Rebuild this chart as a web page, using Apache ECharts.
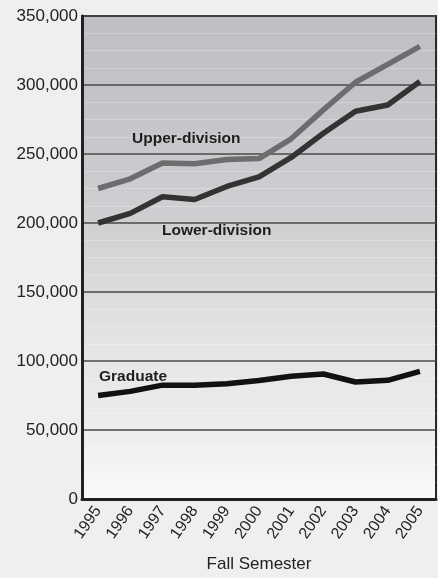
<!DOCTYPE html>
<html>
<head>
<meta charset="utf-8">
<script src="https://cdn.jsdelivr.net/npm/echarts@6/dist/echarts.min.js"></script>
<style>
html,body{margin:0;padding:0;background:#efefef;}
#c{width:438px;height:578px;}
</style>
</head>
<body>
<div id="c"></div>
<script>
var years = ['1995','1996','1997','1998','1999','2000','2001','2002','2003','2004','2005'];
var upperDivision = [225000,232000,243500,243000,246000,246700,261000,282000,302000,315000,328000];
var lowerDivision = [200000,207000,219000,217000,226500,233500,247500,265000,281000,285500,302500];
var graduate = [75000,78000,82500,82500,83500,85800,89000,90600,84800,86000,92500];
var yTicks = [0,50000,100000,150000,200000,250000,300000,350000];
var FONT = '"Liberation Sans",Arial,sans-serif';

var chart = echarts.init(document.getElementById('c'));
chart.setOption({
  backgroundColor: '#efefef',
  animation: false,
  grid: {
    left: 82, right: 2, top: 16, bottom: 74,
    show: true,
    borderColor: '#2a2a2a', borderWidth: 2,
    backgroundColor: {
      type: 'linear', x: 0, y: 0, x2: 0, y2: 1,
      colorStops: [
        {offset: 0, color: '#bfc0c4'},
        {offset: 0.2, color: '#c4c5c8'},
        {offset: 0.43, color: '#cfd0d2'},
        {offset: 0.57, color: '#dcdcde'},
        {offset: 0.71, color: '#e5e6e8'},
        {offset: 0.86, color: '#eeeeef'},
        {offset: 1, color: '#fafafa'}
      ]
    }
  },
  xAxis: {
    type: 'category',
    data: years,
    boundaryGap: true,
    name: 'Fall Semester',
    nameLocation: 'middle',
    nameGap: 57,
    nameTextStyle: {fontFamily: FONT, fontSize: 17, color: '#222'},
    axisLine: {lineStyle: {color: '#222', width: 3}},
    axisTick: {inside: true, length: 8, lineStyle: {color: '#333', width: 1.5}},
    axisLabel: {rotate: 55, fontFamily: FONT, fontSize: 16, color: '#222', margin: 9}
  },
  yAxis: {
    type: 'value',
    min: yTicks[0], max: yTicks[yTicks.length - 1], interval: 50000,
    axisLine: {show: true, lineStyle: {color: '#222', width: 3}},
    axisTick: {show: false},
    axisLabel: {
      fontFamily: FONT, fontSize: 17, color: '#222', margin: 4,
      formatter: function (v) { return v === 0 ? '0' : v.toLocaleString('en-US'); }
    },
    splitLine: {lineStyle: {color: '#4a4a4a', width: 1.5}},
    minorTick: {show: false, splitNumber: 4},
    minorSplitLine: {show: true, lineStyle: {color: 'rgba(255,255,255,0.25)', width: 1}}
  },
  series: [
    {name: 'Upper-division', type: 'line', data: upperDivision, symbol: 'none',
     lineStyle: {color: '#6d6d6f', width: 5.5}, z: 3},
    {name: 'Lower-division', type: 'line', data: lowerDivision, symbol: 'none',
     lineStyle: {color: '#333333', width: 5.5}, z: 4},
    {name: 'Graduate', type: 'line', data: graduate, symbol: 'none',
     lineStyle: {color: '#111111', width: 5.5}, z: 4}
  ],
  graphic: [
    {type: 'text', left: 132, top: 131, z: 10,
     style: {text: 'Upper-division', font: 'bold 15.5px ' + FONT, fill: '#1e1e1e'}},
    {type: 'text', left: 162, top: 223, z: 10,
     style: {text: 'Lower-division', font: 'bold 15.5px ' + FONT, fill: '#1e1e1e'}},
    {type: 'text', left: 99, top: 369, z: 10,
     style: {text: 'Graduate', font: 'bold 15.5px ' + FONT, fill: '#1e1e1e'}}
  ]
});
</script>
</body>
</html>
